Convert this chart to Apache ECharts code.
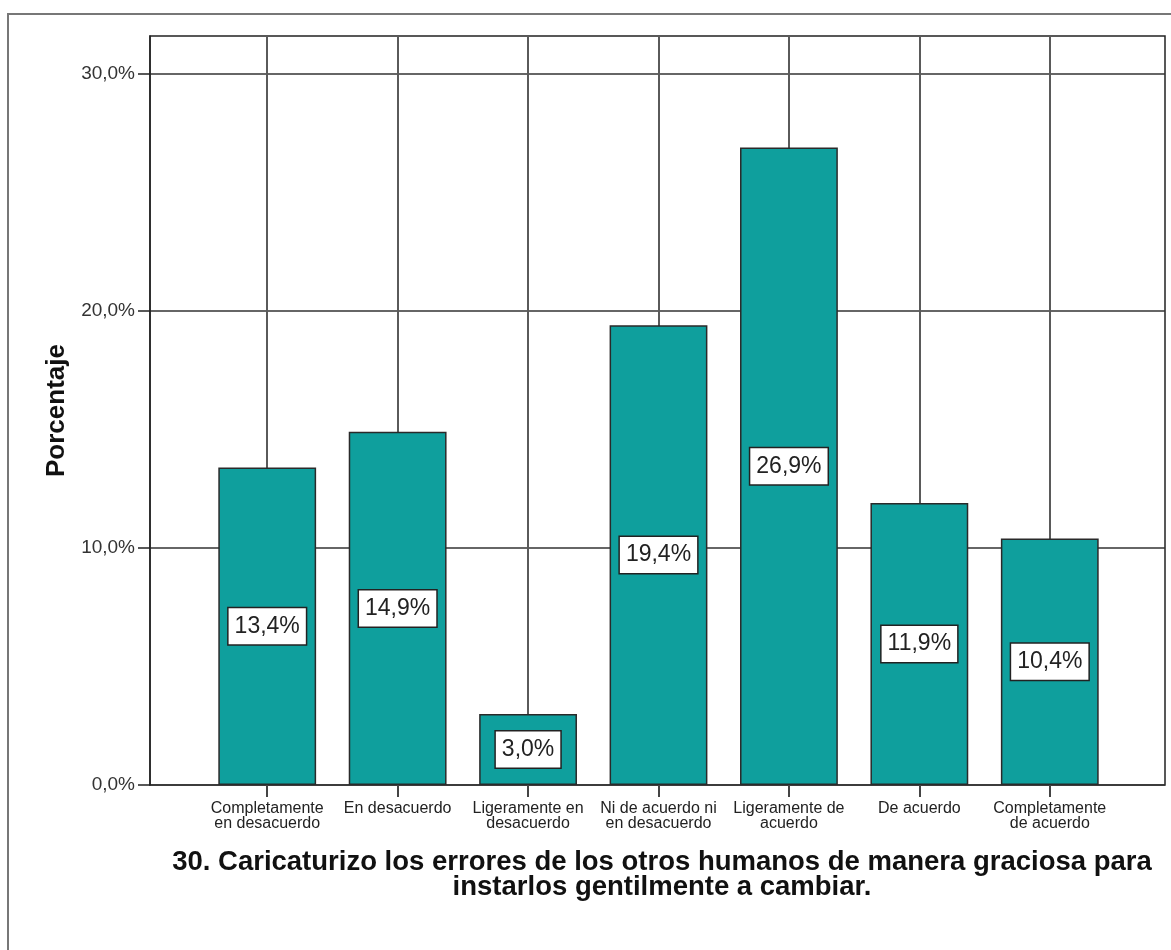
<!DOCTYPE html>
<html>
<head>
<meta charset="utf-8">
<script src="https://cdn.jsdelivr.net/npm/echarts@6/dist/echarts.min.js"></script>
<style>
  html, body { margin: 0; padding: 0; background: #fff; }
  #chart { width: 1171px; height: 950px; }
</style>
</head>
<body>
<div id="chart"></div>
<script>
// datos
var categorias = [
    'Completamente\nen desacuerdo',
    'En desacuerdo',
    'Ligeramente en\ndesacuerdo',
    'Ni de acuerdo ni\nen desacuerdo',
    'Ligeramente de\nacuerdo',
    'De acuerdo',
    'Completamente\nde acuerdo'
];
var porcentajes = [13.4, 14.9, 3.0, 19.4, 26.9, 11.9, 10.4];
var marcasY = [0, 10, 20, 30];
var tituloX = '30. Caricaturizo los errores de los otros humanos de manera graciosa para\ninstarlos gentilmente a cambiar.';
var tituloY = 'Porcentaje';

var fuente = '"Liberation Sans", Arial, sans-serif';
var yMax = 31.6;

function pct(v) {
    return v.toFixed(1).replace('.', ',') + '%';
}

var chartDom = document.getElementById('chart');
var myChart = echarts.init(chartDom);

var option = {
    animation: false,
    backgroundColor: '#fff',
    textStyle: { fontFamily: fuente },
    title: {
        text: tituloX,
        left: 657,
        top: 845,
        textAlign: 'center',
        textStyle: {
            fontFamily: fuente,
            fontSize: 27.5,
            fontWeight: 'bold',
            lineHeight: 25,
            color: '#111'
        }
    },
    graphic: [{
        type: 'polyline',
        shape: { points: [[8, 950], [8, 14], [1171, 14]] },
        style: { stroke: '#777', lineWidth: 2, fill: null }
    }],
    grid: [
        { left: 150, right: 6, top: 36, bottom: 165, show: true, borderColor: '#222', borderWidth: 1.5, backgroundColor: '#fff' },
        { left: 202, right: 56, top: 36, bottom: 165 }
    ],
    xAxis: [
        { type: 'value', gridIndex: 0, show: false, min: 0, max: 1 },
        {
            type: 'category',
            gridIndex: 1,
            data: categorias,
            axisLine: { show: false },
            axisTick: { show: true, alignWithLabel: true, length: 12, lineStyle: { color: '#444', width: 2 } },
            splitLine: { show: true, alignWithLabel: true, lineStyle: { color: '#5a5a5a', width: 2 } },
            axisLabel: {
                interval: 0,
                margin: 16,
                fontSize: 16,
                lineHeight: 15,
                color: '#222',
                fontFamily: fuente
            }
        }
    ],
    yAxis: [
        {
            type: 'value',
            gridIndex: 0,
            min: 0,
            max: yMax,
            interval: 10,
            name: tituloY,
            nameLocation: 'middle',
            nameGap: 80,
            nameRotate: 90,
            nameTextStyle: { fontSize: 26, fontWeight: 'bold', color: '#111', fontFamily: fuente },
            axisLine: { show: true, lineStyle: { color: '#222', width: 1.5 } },
            axisTick: { show: true, length: 12, customValues: marcasY, lineStyle: { color: '#222', width: 1.5 } },
            splitLine: { show: true, lineStyle: { color: '#333', width: 1.5 } },
            axisLabel: {
                customValues: marcasY,
                margin: 15,
                fontSize: 19,
                color: '#333',
                fontFamily: fuente,
                formatter: function (v) { return pct(v); }
            }
        },
        { type: 'value', gridIndex: 1, min: 0, max: yMax, show: false }
    ],
    series: [{
        type: 'bar',
        xAxisIndex: 1,
        yAxisIndex: 1,
        data: porcentajes,
        barWidth: '75%',
        z: 3,
        itemStyle: { color: '#0f9f9d', borderColor: '#2a2a2a', borderWidth: 1.5 },
        label: {
            show: true,
            position: 'inside',
            formatter: function (p) { return pct(p.value); },
            fontSize: 23,
            fontFamily: fuente,
            color: '#222',
            backgroundColor: '#fff',
            borderColor: '#222',
            borderWidth: 1.5,
            padding: [7, 6, 6, 6]
        }
    }]
};

myChart.setOption(option);

window.addEventListener('resize', function () {
    myChart.resize();
});
</script>
</body>
</html>
